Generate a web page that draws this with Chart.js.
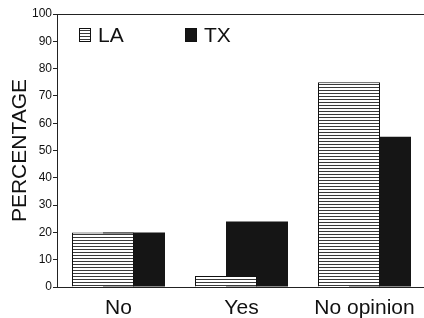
<!DOCTYPE html>
<html>
<head>
<meta charset="utf-8">
<script src="https://cdn.jsdelivr.net/npm/chart.js@4/dist/chart.umd.min.js"></script>
<style>
  html, body { margin: 0; padding: 0; background: #fff; overflow: hidden; }
  #wrap { width: 424px; height: 318px; overflow: hidden; }
</style>
</head>
<body>
<div id="wrap"><canvas id="chart" width="426" height="318"></canvas></div>
<script>
// survey answers, percent of respondents
const categories = ['No', 'Yes', 'No opinion'];
const laValues = [20, 4, 75];
const txValues = [20, 24, 55];
const yTickValues = [0, 10, 20, 30, 40, 50, 60, 70, 80, 90, 100];

const FONT = '"Liberation Sans", Arial, Helvetica, sans-serif';

// horizontal hatch used for the LA bars
function makeStripes(ctx) {
    const p = document.createElement('canvas');
    p.width = 4;
    p.height = 3;
    const pc = p.getContext('2d');
    pc.fillStyle = '#fff';
    pc.fillRect(0, 0, 4, 3);
    pc.fillStyle = '#3a3a3a';
    pc.fillRect(0, 0, 4, 1);
    return ctx.createPattern(p, 'repeat');
}

const canvas = document.getElementById('chart');
const ctx = canvas.getContext('2d');
const stripes = makeStripes(ctx);

// frame line along the top + legend inside the plot
const framePlugin = {
    id: 'frame',
    afterDraw(chart) {
        const { ctx, chartArea } = chart;
        ctx.save();
        ctx.strokeStyle = '#222';
        ctx.lineWidth = 1;
        ctx.beginPath();
        ctx.moveTo(chartArea.left, chartArea.top + 0.5);
        ctx.lineTo(chart.width, chartArea.top + 0.5);
        ctx.stroke();

        const sets = chart.data.datasets;
        const slots = [22, 128];
        ctx.font = '21px ' + FONT;
        ctx.textBaseline = 'middle';
        sets.forEach((ds, i) => {
            const x = chartArea.left + slots[i];
            const y = chartArea.top + 14;
            ctx.fillStyle = ds.backgroundColor;
            ctx.fillRect(x, y, 12, 14);
            ctx.strokeStyle = '#111';
            ctx.strokeRect(x + 0.5, y + 0.5, 11, 13);
            ctx.fillStyle = '#111';
            ctx.fillText(ds.label, x + 19, y + 8);
        });
        ctx.restore();
    }
};

new Chart(canvas, {
    type: 'bar',
    data: {
        labels: categories,
        datasets: [
            {
                label: 'LA',
                data: laValues,
                backgroundColor: stripes,
                borderColor: '#111',
                borderWidth: 1,
                categoryPercentage: 62 / 123,
                barPercentage: 2
            },
            {
                label: 'TX',
                data: txValues,
                backgroundColor: '#151515',
                borderColor: '#151515',
                borderWidth: 0,
                categoryPercentage: 62 / 123,
                barPercentage: 2
            }
        ]
    },
    options: {
        responsive: false,
        animation: false,
        layout: { padding: { top: 14, right: 0, left: 0, bottom: 0 } },
        plugins: {
            legend: { display: false },
            tooltip: { enabled: false }
        },
        scales: {
            x: {
                grid: { display: false },
                border: { display: true, color: '#222', width: 1 },
                ticks: {
                    color: '#111',
                    font: { family: FONT, size: 21 },
                    padding: 1,
                    maxRotation: 0
                },
                afterFit(scale) { scale.height = 31; }
            },
            y: {
                min: 0,
                max: 100,
                afterBuildTicks(scale) {
                    scale.ticks = yTickValues.map(v => ({ value: v }));
                },
                grid: {
                    drawOnChartArea: false,
                    drawTicks: true,
                    tickLength: 4,
                    color: '#222'
                },
                border: { display: true, color: '#222', width: 1 },
                ticks: {
                    color: '#111',
                    font: { family: FONT, size: 12 },
                    padding: 1
                },
                title: {
                    display: true,
                    text: 'PERCENTAGE',
                    color: '#111',
                    font: { family: FONT, size: 21 },
                    padding: { top: 8, bottom: 0 }
                },
                afterFit(scale) { scale.width = 57; }
            }
        }
    },
    plugins: [framePlugin]
});
</script>
</body>
</html>
